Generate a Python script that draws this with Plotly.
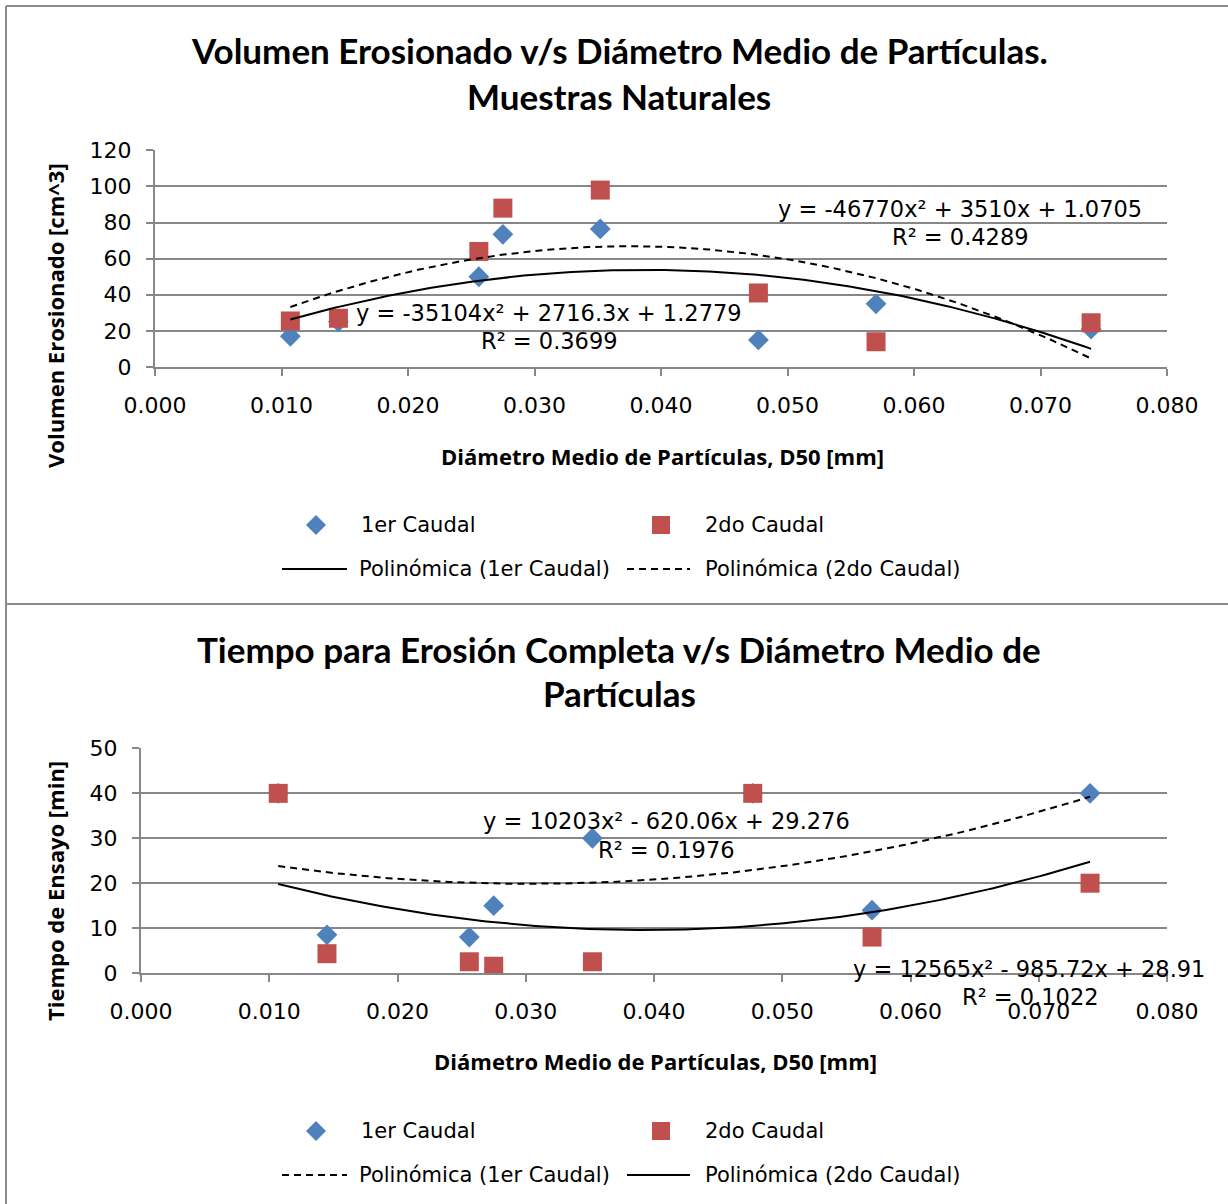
import numpy as np
import plotly.graph_objects as go

W, H = 1228, 1204

# ---- data: volume eroded vs. D50 ----
d50_mm = [0.0107, 0.0145, 0.0256, 0.0275, 0.0352, 0.0477, 0.0570, 0.0740]
vol_q1 = [17.0, 25.0, 50.0, 73.5, 76.5, 15.0, 35.0, 21.0]
vol_q2 = [25.5, 27.0, 64.0, 88.0, 98.0, 41.0, 14.0, 24.5]

# ---- data: time to complete erosion vs. D50 ----
time_q1 = [40.0, 8.5, 8.0, 15.0, 30.0, 40.0, 14.0, 40.0]
time_q2 = [40.0, 4.3, 2.5, 1.5, 2.5, 40.0, 8.0, 20.0]

# quadratic trendline coefficients (a, b, c) for y = a x^2 + b x + c
vol_fit_q1 = [-35104, 2716.3, 1.2779]
vol_fit_q2 = [-46770, 3510, 1.0705]
time_fit_q1 = [10203, -620.06, 29.276]
time_fit_q2 = [12565, -985.72, 28.91]

vol_eq_q1 = ["y = -35104x² + 2716.3x + 1.2779", "R² = 0.3699"]
vol_eq_q2 = ["y = -46770x² + 3510x + 1.0705", "R² = 0.4289"]
time_eq_q1 = ["y = 10203x² - 620.06x + 29.276", "R² = 0.1976"]
time_eq_q2 = ["y = 12565x² - 985.72x + 28.91", "R² = 0.1022"]

x_ticks = [0.0, 0.01, 0.02, 0.03, 0.04, 0.05, 0.06, 0.07, 0.08]

BLUE = "#4F81BD"
RED = "#C0504D"
GRID = "#878787"
BODY_FONT = "DejaVu Sans"
BOLD_FONT = "Open Sans"
TITLE_FONT = "Lato"
TICK_SIZE = 22
EQ_SIZE = 22.5
LEGEND_SIZE = 21


def px(x):
    return x / W


def py(y):
    return 1 - y / H


def trend(coefs, xs):
    a, b, c = coefs
    xs = np.asarray(xs)
    return a * xs ** 2 + b * xs + c


xfit = np.linspace(min(d50_mm), max(d50_mm), 200)

fig = go.Figure()

# top chart traces
fig.add_trace(go.Scatter(x=d50_mm, y=vol_q1, mode="markers", name="1er Caudal",
                         marker=dict(symbol="diamond", size=16, color=BLUE),
                         xaxis="x", yaxis="y", showlegend=False))
fig.add_trace(go.Scatter(x=d50_mm, y=vol_q2, mode="markers", name="2do Caudal",
                         marker=dict(symbol="square", size=19, color=RED),
                         xaxis="x", yaxis="y", showlegend=False))
fig.add_trace(go.Scatter(x=xfit, y=trend(vol_fit_q1, xfit), mode="lines",
                         name="Polinómica (1er Caudal)",
                         line=dict(color="black", width=2),
                         xaxis="x", yaxis="y", showlegend=False))
fig.add_trace(go.Scatter(x=xfit, y=trend(vol_fit_q2, xfit), mode="lines",
                         name="Polinómica (2do Caudal)",
                         line=dict(color="black", width=2, dash="7px,5px"),
                         xaxis="x", yaxis="y", showlegend=False))

# bottom chart traces
fig.add_trace(go.Scatter(x=d50_mm, y=time_q1, mode="markers", name="1er Caudal",
                         marker=dict(symbol="diamond", size=16, color=BLUE),
                         xaxis="x2", yaxis="y2", showlegend=False))
fig.add_trace(go.Scatter(x=d50_mm, y=time_q2, mode="markers", name="2do Caudal",
                         marker=dict(symbol="square", size=19, color=RED),
                         xaxis="x2", yaxis="y2", showlegend=False))
fig.add_trace(go.Scatter(x=xfit, y=trend(time_fit_q1, xfit), mode="lines",
                         name="Polinómica (1er Caudal)",
                         line=dict(color="black", width=2, dash="7px,5px"),
                         xaxis="x2", yaxis="y2", showlegend=False))
fig.add_trace(go.Scatter(x=xfit, y=trend(time_fit_q2, xfit), mode="lines",
                         name="Polinómica (2do Caudal)",
                         line=dict(color="black", width=2),
                         xaxis="x2", yaxis="y2", showlegend=False))

tick_font = dict(family=BODY_FONT, size=TICK_SIZE, color="black")

common_x = dict(range=[0, 0.08], tickvals=x_ticks, tickformat=".3f",
                showgrid=False, zeroline=False, showline=True,
                linecolor=GRID, linewidth=2, ticks="outside", ticklen=7,
                tickwidth=2, tickcolor=GRID, tickfont=tick_font,
                ticklabelstandoff=11, fixedrange=True, automargin=False)
common_y = dict(showgrid=True, gridcolor=GRID, gridwidth=2, zeroline=False,
                showline=True, linecolor=GRID, linewidth=2, ticks="outside",
                ticklen=7, tickwidth=2, tickcolor=GRID, tickfont=tick_font,
                ticklabelstandoff=10, fixedrange=True, automargin=False)

fig.update_layout(
    width=W, height=H,
    margin=dict(l=0, r=0, t=0, b=0, pad=0, autoexpand=False),
    paper_bgcolor="white", plot_bgcolor="white",
    showlegend=False,
    xaxis=dict(domain=[px(155), px(1167)], anchor="y", **common_x),
    yaxis=dict(domain=[py(367), py(150)], anchor="x", range=[0, 120.2],
               tickvals=[0, 20, 40, 60, 80, 100, 120], **common_y),
    xaxis2=dict(domain=[px(141), px(1167)], anchor="y2", **common_x),
    yaxis2=dict(domain=[py(973), py(748)], anchor="x2", range=[0, 50.1],
                tickvals=[0, 10, 20, 30, 40, 50], **common_y),
)

annotations = []
shapes = []


def text(x, y, s, size=EQ_SIZE, family=BODY_FONT, bold=False, xanchor="center",
         angle=0):
    annotations.append(dict(
        x=px(x), y=py(y), xref="paper", yref="paper", text=f"<b>{s}</b>" if bold else s,
        showarrow=False, xanchor=xanchor, yanchor="middle", textangle=angle,
        font=dict(family=family, size=size, color="black")))


# chart titles
text(619, 50, "Volumen Erosionado v/s Diámetro Medio de Partículas.", 35, TITLE_FONT, True)
text(619, 96, "Muestras Naturales", 35, TITLE_FONT, True)
text(619, 649, "Tiempo para Erosión Completa v/s Diámetro Medio de", 35, TITLE_FONT, True)
text(619, 693, "Partículas", 35, TITLE_FONT, True)

# axis titles
text(662, 456, "Diámetro Medio de Partículas, D50 [mm]", 22, BOLD_FONT, True)
text(55, 316, "Volumen Erosionado [cm^3]", 22, BOLD_FONT, True, angle=-90)
text(655, 1061, "Diámetro Medio de Partículas, D50 [mm]", 22, BOLD_FONT, True)
text(55, 891, "Tiempo de Ensayo [min]", 22, BOLD_FONT, True, angle=-90)

# trendline equations
text(549, 313, vol_eq_q1[0]); text(549, 341, vol_eq_q1[1])
text(960, 209, vol_eq_q2[0]); text(960, 237, vol_eq_q2[1])
text(666, 821, time_eq_q1[0]); text(666, 850, time_eq_q1[1])
text(1029, 969, time_eq_q2[0]); text(1030, 997, time_eq_q2[1])


def diamond(cx, cy, r=10):
    path = (f"M{px(cx - r)},{py(cy)} L{px(cx)},{py(cy - r)} "
            f"L{px(cx + r)},{py(cy)} L{px(cx)},{py(cy + r)} Z")
    shapes.append(dict(type="path", xref="paper", yref="paper", path=path,
                       fillcolor=BLUE, line=dict(width=0)))


def square(cx, cy, r=9):
    shapes.append(dict(type="rect", xref="paper", yref="paper",
                       x0=px(cx - r), x1=px(cx + r), y0=py(cy + r), y1=py(cy - r),
                       fillcolor=RED, line=dict(width=0)))


def legend_line(x0, x1, cy, dashed):
    shapes.append(dict(type="line", xref="paper", yref="paper",
                       x0=px(x0), x1=px(x1), y0=py(cy), y1=py(cy),
                       line=dict(color="black", width=2,
                                 dash="7px,5px" if dashed else "solid")))


def legend_block(row1, row2, first_dashed):
    diamond(316, row1)
    text(359, row1, "1er Caudal", size=LEGEND_SIZE, xanchor="left")
    square(661, row1)
    text(703, row1, "2do Caudal", size=LEGEND_SIZE, xanchor="left")
    legend_line(282, 347, row2, first_dashed)
    text(357, row2, "Polinómica (1er Caudal)", size=LEGEND_SIZE, xanchor="left")
    legend_line(627, 690, row2, not first_dashed)
    text(703, row2, "Polinómica (2do Caudal)", size=LEGEND_SIZE, xanchor="left")


legend_block(525, 569, False)
legend_block(1131, 1175, True)

# chart frames
frame = dict(color="#8C8C8C", width=2)
for (x0, y0, x1, y1) in [(6, 6, 1228, 6), (6, 604, 1228, 604), (6, 6, 6, 1204)]:
    shapes.append(dict(type="line", xref="paper", yref="paper",
                       x0=px(x0), y0=py(y0), x1=px(x1), y1=py(y1), line=frame))

fig.update_layout(annotations=annotations, shapes=shapes)

fig.write_html("out.html")
